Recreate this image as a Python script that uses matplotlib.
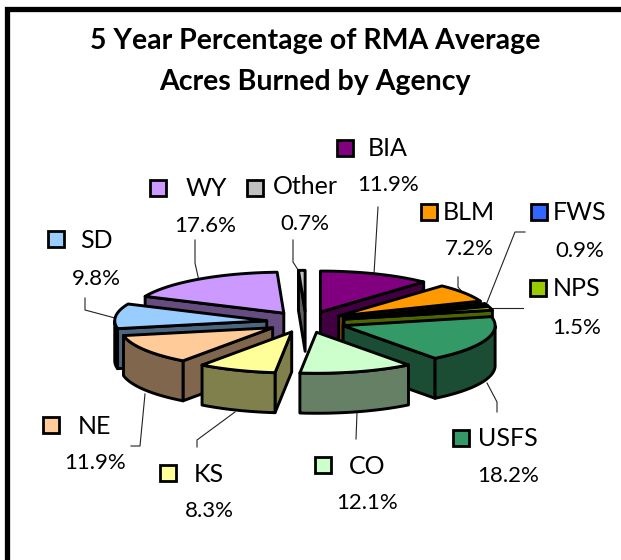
import numpy as np
import matplotlib
matplotlib.use("Agg")
import matplotlib.pyplot as plt
from matplotlib.patches import Polygon, Rectangle
from matplotlib.colors import to_rgb

plt.rcParams['font.family'] = ['Lato', 'DejaVu Sans']

names = ['BIA', 'BLM', 'FWS', 'NPS', 'USFS', 'CO', 'KS', 'NE', 'SD', 'WY', 'Other']
values = [11.9, 7.2, 0.9, 1.5, 18.2, 12.1, 8.3, 11.9, 9.8, 17.6, 0.7]
colors = ['#800080', '#FF9900', '#3366FF', '#99CC00', '#339966', '#CCFFCC',
          '#FFFF99', '#FFCC99', '#99CCFF', '#CC99FF', '#C0C0C0']
title_lines = ['5 Year Percentage of RMA Average', 'Acres Burned by Agency']

# label layout: key centre, name centre, percent centre (pixels)
key_xy = [(345, 148), (429, 212), (539, 212), (538, 288), (461, 438), (323, 465),
          (168, 473), (51, 425), (56, 239), (158, 188), (255, 188)]
name_xy = [(388, 149), (469, 213), (580, 213), (577, 289), (508, 439), (367, 466),
           (209, 475), (94, 426), (96, 241), (206, 189), (305, 187)]
pct_xy = [(388, 185), (469, 249), (580, 251), (577, 328), (508, 476), (367, 503),
          (209, 511), (95, 463), (96, 279), (205, 226), (305, 224)]
leaders = [
    [(374, 274), (378, 207)],
    [(463, 293), (458, 287), (458, 277)],
    [(486, 305), (515, 232), (525, 232)],
    [(488, 308), (523, 308)],
    [(487, 383), (497, 402), (497, 412)],
    [(357, 413), (356, 439)],
    [(235, 412), (197, 440), (197, 447)],
    [(145, 394), (140, 446), (131, 446)],
    [(115, 318), (85, 310), (85, 298)],
    [(199, 281), (195, 263), (195, 240)],
    [(300, 273), (293, 262), (293, 240)],
]

CX, CY, RX, RY, DEPTH, EXPLODE = 306, 322, 152, 41, 40, 0.26
EDGE = 2.1

W, H = 621, 560
fig = plt.figure(figsize=(W / 100, H / 100), dpi=100, facecolor='white')
ax = fig.add_axes([0, 0, 1, 1])
ax.set_xlim(0, W)
ax.set_ylim(H, 0)
ax.axis('off')

# outer frame (only top and left visible in the crop)
ax.plot([6.5, 6.5, W + 5], [H + 5, 8.5, 8.5], color='black', lw=3.8, solid_capstyle='butt',
        solid_joinstyle='miter', zorder=1)

for i, line in enumerate(title_lines):
    ax.text(315, 41 + 41 * i, line, ha='center', va='center', fontsize=20.5, fontweight='bold',
            color='black')

total = sum(values)
edges = np.cumsum([0] + values) / total * 2 * np.pi


def pt(t, r=1.0):
    return np.array([r * RX * np.sin(t), -r * RY * np.cos(t)])


mids = (edges[:-1] + edges[1:]) / 2
order = np.argsort(-np.cos(mids))
z = 5
for i in order:
    t0, t1 = edges[i], edges[i + 1]
    tm = mids[i]
    apex = np.array([CX, CY]) + pt(tm, EXPLODE)
    down = np.array([0, DEPTH])
    top_col = to_rgb(colors[i])
    side_col = tuple(c * 0.5 for c in top_col)
    style = dict(edgecolor='black', linewidth=EDGE, joinstyle='round')

    # radial walls facing the viewer
    for t, normal in ((t0, t0 - np.pi / 2), (t1, t1 + np.pi / 2)):
        if np.cos(normal) < 0:
            rim = apex + pt(t)
            ax.add_patch(Polygon([apex, rim, rim + down, apex + down], closed=True,
                                 facecolor=side_col, zorder=z, **style))
            z += 1
    # outer wall, front half only
    ts = np.linspace(t0, t1, 80)
    ts = ts[np.cos(ts) < 0]
    if len(ts) > 1:
        rim = np.array([apex + pt(t) for t in ts])
        ax.add_patch(Polygon(np.vstack([rim, (rim + down)[::-1]]), closed=True,
                             facecolor=side_col, zorder=z, **style))
        z += 1
    # top face
    ts = np.linspace(t0, t1, 80)
    arc = np.array([apex + pt(t) for t in ts])
    ax.add_patch(Polygon(np.vstack([apex, arc]), closed=True, facecolor=top_col,
                         zorder=z, **style))
    z += 1

for pts in leaders:
    xs, ys = zip(*pts)
    ax.plot(xs, ys, color='#222222', lw=0.8, zorder=3)

KEY = 16
for i, name in enumerate(names):
    kx, ky = key_xy[i]
    ax.add_patch(Rectangle((kx - KEY / 2, ky - KEY / 2), KEY, KEY, facecolor=colors[i],
                           edgecolor='black', linewidth=2.0, zorder=200))
    ax.text(*name_xy[i], name, ha='center', va='center', fontsize=18, color='black', zorder=200)
    ax.text(*pct_xy[i], f'{values[i]:.1f}%', ha='center', va='center', fontsize=16, color='black',
            zorder=200)

fig.savefig('out.png', dpi=100)
